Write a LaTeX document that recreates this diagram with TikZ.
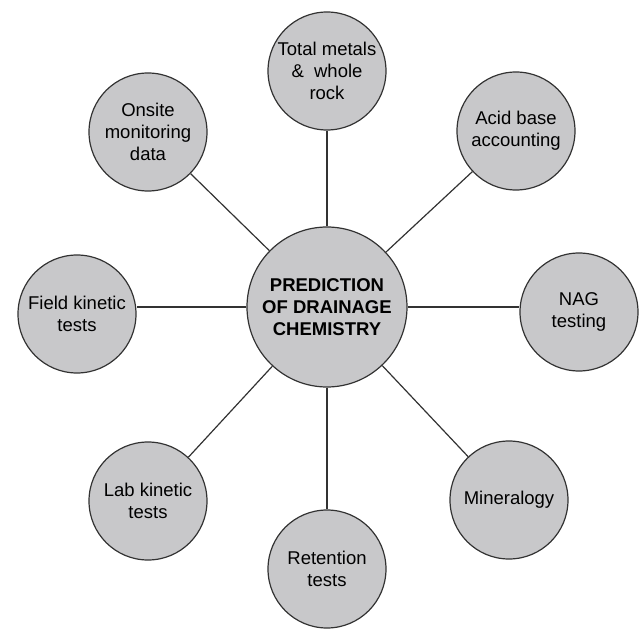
\documentclass[tikz,border=0pt]{standalone}
\usepackage{fontspec}
\setmainfont{Liberation Sans}
\usepackage{tikz}
\usetikzlibrary{positioning}
\definecolor{discfill}{RGB}{200,200,202}
\definecolor{discline}{RGB}{50,50,50}

\begin{document}
\begin{tikzpicture}[auto, on grid, line width=1.2pt, draw=discline,
state/.style ={circle, draw=discline, fill=discfill, text=black, align=center, inner sep=0pt, minimum size=118pt, font=\fontsize{18.5}{22}\selectfont},
hub/.style ={state, minimum size=160pt, font=\fontsize{18.5}{22}\selectfont\bfseries}]
\useasboundingbox (-327pt,307pt) rectangle (313pt,-322pt);
\node[hub] (P) {PREDICTION\\OF DRAINAGE\\CHEMISTRY};
\node[state] (T) [above = 236pt of P] {Total metals\\\&\ \ whole\\rock};
\node[state] (O) [above left = 175pt and 179pt of P] {Onsite\\monitoring\\data};
\node[state] (A) [above right = 176pt and 189pt of P] {Acid base\\accounting};
\node[state] (N) [below right = 5pt and 252pt of P] {NAG\\testing};
\node[state] (M) [below right = 193pt and 182pt of P] {Mineralogy};
\node[state] (R) [below = 262pt of P] {Retention\\tests};
\node[state] (L) [below left = 194pt and 179pt of P] {Lab kinetic\\tests};
\node[state] (F) [below left = 7pt and 250pt of P] {Field kinetic\\tests};
\path[draw=discline] (P) edge (T)
	  edge (O)
	  edge (A)
	  edge (M)
	  edge (R)
	  edge (L)
	  (P.east) edge (P.east -| N.west)
	  (P.west) edge (P.west -| F.east);
\end{tikzpicture}
\end{document}
